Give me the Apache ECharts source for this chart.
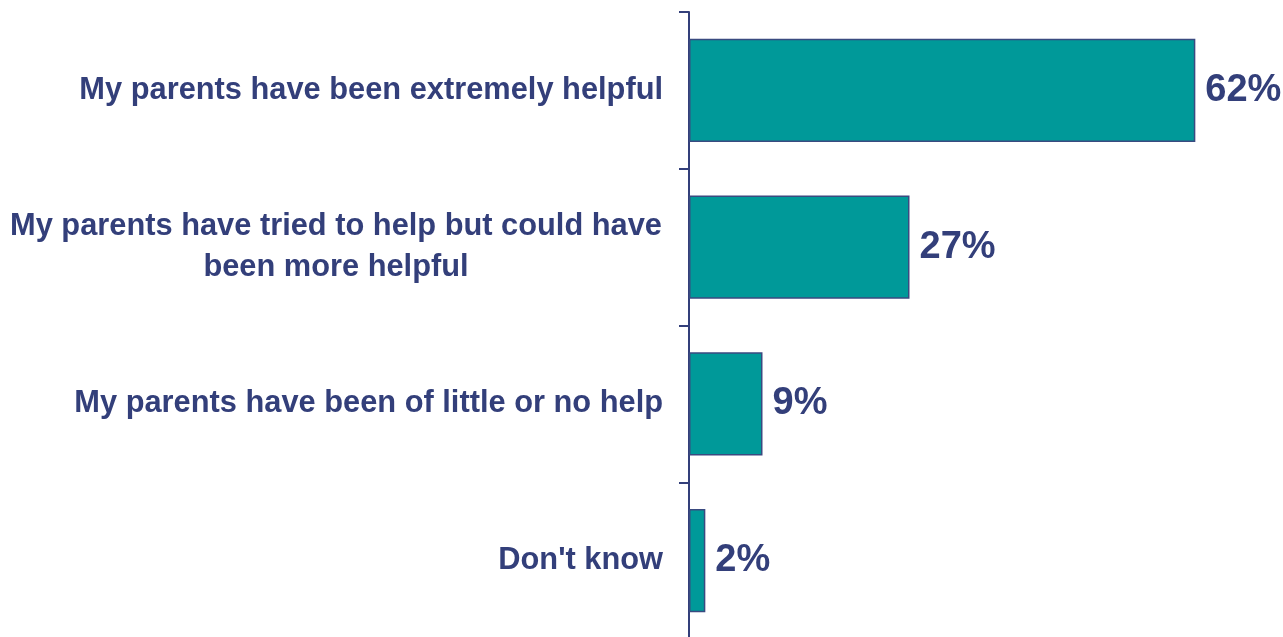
<!DOCTYPE html>
<html>
<head>
<meta charset="utf-8">
<style>
  html, body { margin: 0; padding: 0; background: #ffffff; }
  #chart { width: 1283px; height: 637px; }
</style>
<script src="https://cdn.jsdelivr.net/npm/echarts@6/dist/echarts.min.js"></script>
</head>
<body>
<div id="chart"></div>
<script>
// Survey responses: how helpful parents have been
const categories = [
  'My parents have been extremely helpful',
  'My parents have tried to help but could have\nbeen more helpful',
  'My parents have been of little or no help',
  "Don't know"
];
const shares = [62, 27, 9, 2];

const navy = '#333F7A';
const teal = '#009999';
const font = '"Liberation Sans", Arial, sans-serif';

const chart = echarts.init(document.getElementById('chart'));

chart.setOption({
  animation: false,
  backgroundColor: '#ffffff',
  // the plot runs slightly past the bottom edge, so the last band boundary is off-screen
  grid: {
    left: 689, width: 588, top: 12, height: 627,
    containLabel: false,
    outerBoundsMode: 'none'
  },
  xAxis: {
    type: 'value',
    min: 0,
    max: 72,
    show: false
  },
  yAxis: {
    type: 'category',
    data: categories,
    inverse: true,
    axisLine: { show: true, lineStyle: { color: navy, width: 2 } },
    axisTick: { show: true, length: 10, lineStyle: { color: navy, width: 2 } },
    axisLabel: {
      margin: 26,
      align: 'right',
      fontFamily: font,
      fontWeight: 'bold',
      fontSize: 30.8,
      color: navy,
      lineHeight: 41,
      formatter: function (value) {
        // multi-line labels keep their lines centred under each other
        if (value.indexOf('\n') >= 0) {
          return value.split('\n').map(function (line) { return '{c|' + line + '}'; }).join('\n');
        }
        return value;
      },
      rich: {
        c: {
          width: 654,
          align: 'center',
          fontFamily: font,
          fontWeight: 'bold',
          fontSize: 30.8,
          color: navy,
          lineHeight: 41
        }
      }
    }
  },
  series: [{
    type: 'bar',
    data: shares,
    barWidth: '66%',
    itemStyle: { color: teal, borderColor: '#3A4A80', borderWidth: 1.5 },
    label: {
      show: true,
      position: 'right',
      distance: 10,
      formatter: '{c}%',
      fontFamily: font,
      fontWeight: 'bold',
      fontSize: 38,
      color: navy
    }
  }]
});
</script>
</body>
</html>
